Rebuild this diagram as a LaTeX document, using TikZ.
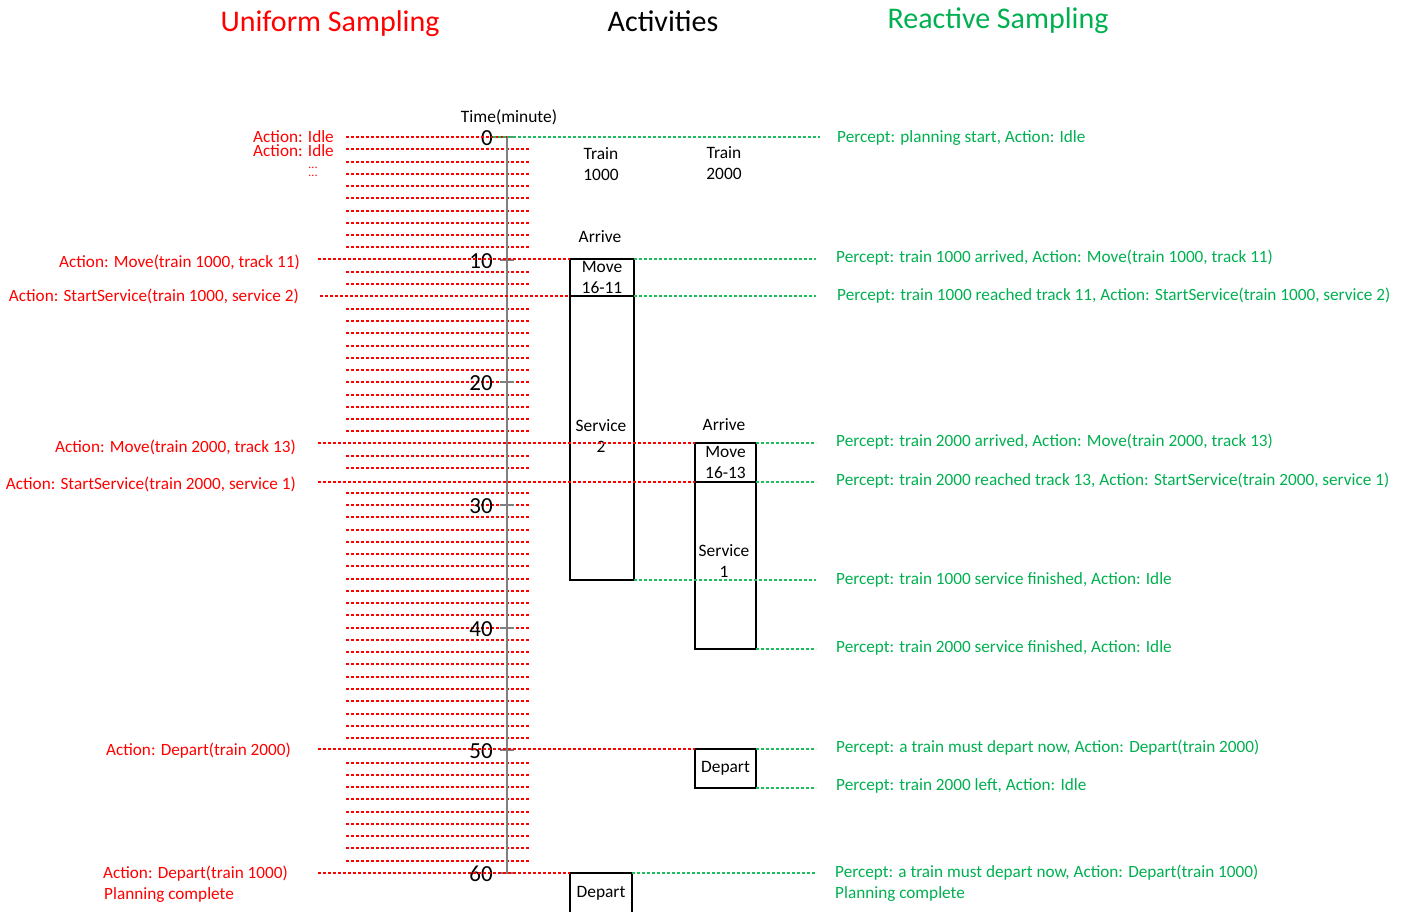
\documentclass[tikz,border=0pt]{standalone}
\usepackage{fontspec}
\setmainfont{Carlito}
\definecolor{ured}{RGB}{255,0,0}
\definecolor{rgreen}{RGB}{0,176,80}
\definecolor{lgreen}{RGB}{30,190,95}
\definecolor{axgray}{RGB}{128,128,128}
\tikzset{
  redl/.style={draw=ured, dash pattern=on 3pt off 2pt, line width=1.2pt},
  greenl/.style={draw=lgreen, dash pattern=on 3pt off 2pt, line width=1.2pt},
  actbox/.style={draw=black, line width=2.6pt, inner sep=0pt, outer sep=0pt, align=center,
    font=\fontsize{17.4}{21}\selectfont},
  lab/.style={font=\fontsize{17.2}{21}\selectfont, inner sep=0pt},
  redlab/.style={lab, text=ured, anchor=east},
  greenlab/.style={lab, text=rgreen, anchor=west},
  txt/.style={inner sep=0pt, font=\fontsize{17.4}{21}\selectfont, align=center},
  ticknum/.style={inner sep=0pt, anchor=east, font=\fontsize{23}{26}\selectfont},
  title/.style={inner sep=0pt, font=\fontsize{30}{34}\selectfont},
}
\begin{document}
\begin{tikzpicture}[x=1pt,y=-1pt]
\useasboundingbox (0,0) rectangle (1408,911);
% titles
\node[title, text=ured] (t1) at (330,24) {Uniform Sampling};
\node[title] (t2) at (663,21) {Activities};
\node[title, text=rgreen] (t3) at (998,21) {Reactive Sampling};
% minor uniform lines
\foreach \m in {1,...,9,11,12,14,15,...,24,26,27,29,30,...,49,51,52,...,59}
  \draw[redl] (346,{round(137+\m*12.267)}) -- (530,{round(137+\m*12.267)});
% axis
\coordinate (ax0) at (507,137);
\coordinate (ax60) at (507,873);
\draw[axgray, line width=1.6pt] (ax0) -- (ax60);
\foreach \v in {0,1,...,6}{
  \coordinate (tk\v) at (507,{round(137+\v*122.67)});
  \draw[axgray, line width=1.2pt] ([xshift=-7pt]tk\v) -- ([xshift=7pt]tk\v);
  \node[ticknum] (n\v) at (493,{138+\v*122.67}) {\the\numexpr\v*10\relax};
}
\node[txt] (tm) at (509,117) {Time(minute)};
% train headers
\node[txt] (h1) at (601,164.5) {Train\\1000};
\node[txt] (h2) at (724,163.5) {Train\\2000};
\node[txt] (ar1) at (600,237) {Arrive};
\node[txt] (ar2) at (724,425) {Arrive};
% activity boxes
\node[actbox, minimum width=64pt, minimum height=37pt] (m1) at (602,277.5) {Move\\16-11};
\node[actbox, minimum width=64pt, minimum height=284pt] (s2) at (602,438) {};
\node[txt] (s2t) at (601,436.5) {Service\\2};
\node[actbox, minimum width=61pt, minimum height=39pt] (m2) at (725.5,462.5) {Move\\16-13};
\node[actbox, minimum width=61pt, minimum height=167pt] (s1) at (725.5,565.5) {};
\node[txt] (s1t) at (724,561.5) {Service\\1};
\node[actbox, minimum width=61pt, minimum height=39pt] (d2) at (725.5,768.5) {Depart};
\node[actbox, minimum width=62pt, minimum height=40pt] (d1) at (601,893) {Depart};
% minute 0
\coordinate (r0) at (346,137);
\coordinate (g0s) at (493,137);
\coordinate (g0) at (820,137);
\draw[redl] (r0) -- (ax0);
\draw[greenl] (g0s) -- (g0);
% major event lines
\coordinate (r10) at (318,259);   \coordinate (g10) at (816,259);
\coordinate (r13) at (320,296);   \coordinate (g13) at (816,296);
\coordinate (r25) at (318,443);   \coordinate (g25) at (816,443);
\coordinate (r28) at (318,482);   \coordinate (g28) at (816,482);
\coordinate (g36) at (816,580);
\coordinate (g42) at (816,649);
\coordinate (r50) at (318,749);   \coordinate (g50) at (816,749);
\coordinate (g53) at (816,788);
\coordinate (r60) at (318,873);   \coordinate (g60) at (816,873);
\draw[redl] (r10) -- (m1.north west);
\draw[greenl] (m1.north east) -- (g10);
\draw[redl] (r13) -- (m1.south west);
\draw[greenl] (m1.south east) -- (g13);
\draw[redl] (r25) -- (m2.north west);
\draw[greenl] (m2.north east) -- (g25);
\draw[redl] (r28) -- (m2.south west);
\draw[greenl] (m2.south east) -- (g28);
\draw[greenl] (s2.south east) -- (g36);
\draw[greenl] (s1.south east) -- (g42);
\draw[redl] (r50) -- (d2.north west);
\draw[greenl] (d2.north east) -- (g50);
\draw[greenl] (d2.south east) -- (g53);
\draw[redl] (r60) -- (d1.north west);
\draw[greenl] (d1.north east) -- (g60);
% left labels
\node[lab, text=ured, anchor=east, align=right, font=\fontsize{17.2}{14}\selectfont] (la1) at (334,144) {Action: Idle\\Action: Idle};
\node[lab, text=ured, align=center, font=\fontsize{12}{8}\selectfont] (la3) at (313,172) {...\\...};
\node[redlab] (la5) at (300,262) {Action: Move(train 1000, track 11)};
\node[redlab] (la6) at (299,296) {Action: StartService(train 1000, service 2)};
\node[redlab] (la7) at (296,447) {Action: Move(train 2000, track 13)};
\node[redlab] (la8) at (296,484) {Action: StartService(train 2000, service 1)};
\node[redlab] (la9) at (291,751) {Action: Depart(train 2000)};
\node[redlab] (la10) at (288,874) {Action: Depart(train 1000)};
\node[lab, text=ured, anchor=west] (la11) at (104,895) {Planning complete};
% right labels
\node[greenlab] (lb1) at (837,138) {Percept: planning start, Action: Idle};
\node[greenlab] (lb2) at (836,258) {Percept: train 1000 arrived, Action: Move(train 1000, track 11)};
\node[greenlab] (lb3) at (837,296) {Percept: train 1000 reached track 11, Action: StartService(train 1000, service 2)};
\node[greenlab] (lb4) at (836,442) {Percept: train 2000 arrived, Action: Move(train 2000, track 13)};
\node[greenlab] (lb5) at (836,481) {Percept: train 2000 reached track 13, Action: StartService(train 2000, service 1)};
\node[greenlab] (lb6) at (836,580) {Percept: train 1000 service finished, Action: Idle};
\node[greenlab] (lb7) at (836,648) {Percept: train 2000 service finished, Action: Idle};
\node[greenlab] (lb8) at (836,748) {Percept: a train must depart now, Action: Depart(train 2000)};
\node[greenlab] (lb9) at (836,786) {Percept: train 2000 left, Action: Idle};
\node[greenlab] (lb10) at (835,873) {Percept: a train must depart now, Action: Depart(train 1000)};
\node[greenlab] (lb11) at (835,894) {Planning complete};
\end{tikzpicture}
\end{document}
